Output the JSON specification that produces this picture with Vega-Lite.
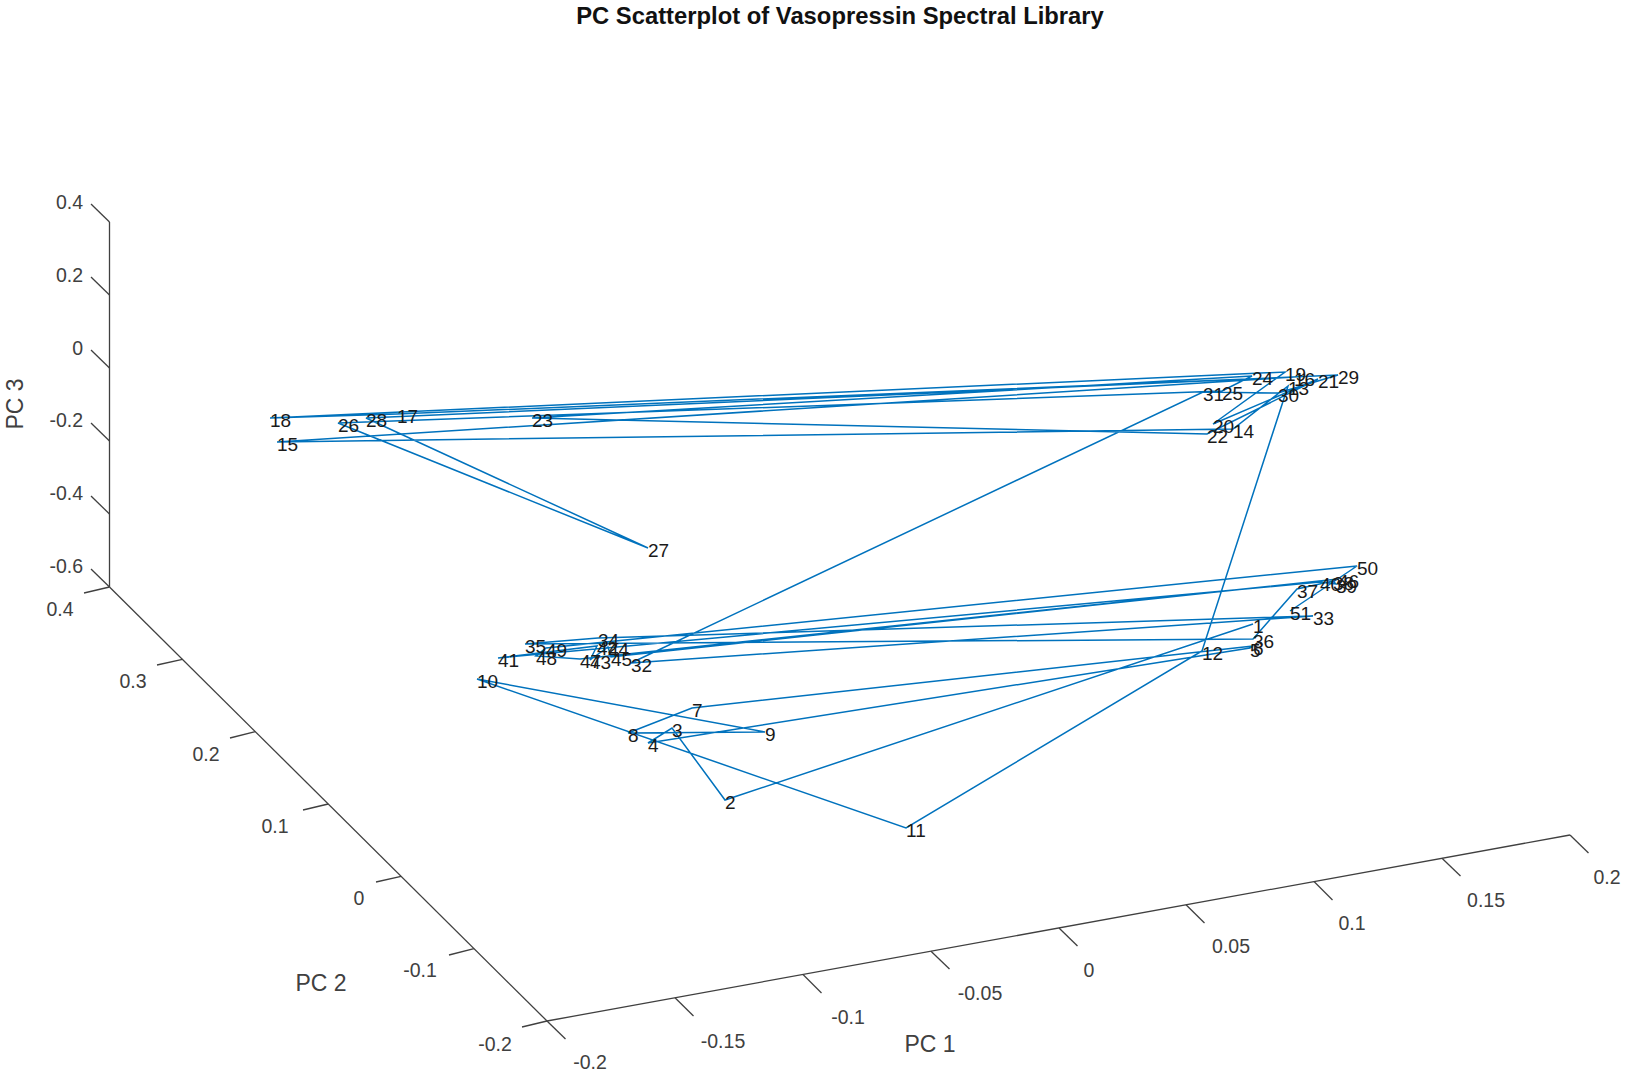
{"$schema":"https://vega.github.io/schema/vega-lite/v6.json","width":1630,"height":1076,"padding":0,"autosize":{"type":"fit","contains":"padding"},"background":"white","config":{"view":{"stroke":null},"text":{"font":"Liberation Sans"}},
"datasets":{
"pts":[{"n":1,"px":1253,"py":624},{"n":2,"px":725,"py":800},{"n":3,"px":672,"py":728},{"n":4,"px":648,"py":743},{"n":5,"px":1250,"py":648},{"n":6,"px":1253,"py":646},{"n":7,"px":692,"py":708},{"n":8,"px":628,"py":733},{"n":9,"px":765,"py":732},{"n":10,"px":477,"py":679},{"n":11,"px":906,"py":828},{"n":12,"px":1202,"py":651},{"n":13,"px":1288,"py":386},{"n":14,"px":1233,"py":429},{"n":15,"px":277,"py":442},{"n":16,"px":1294,"py":377},{"n":17,"px":397,"py":414},{"n":18,"px":270,"py":418},{"n":19,"px":1285,"py":372},{"n":20,"px":1213,"py":424},{"n":21,"px":1318,"py":379},{"n":22,"px":1207,"py":434},{"n":23,"px":532,"py":418},{"n":24,"px":1252,"py":376},{"n":25,"px":1222,"py":391},{"n":26,"px":338,"py":423},{"n":27,"px":648,"py":548},{"n":28,"px":366,"py":418},{"n":29,"px":1338,"py":375},{"n":30,"px":1278,"py":393},{"n":31,"px":1203,"py":392},{"n":32,"px":631,"py":663},{"n":33,"px":1313,"py":616},{"n":34,"px":598,"py":638},{"n":35,"px":525,"py":644},{"n":36,"px":1253,"py":639},{"n":37,"px":1297,"py":589},{"n":38,"px":1333,"py":581},{"n":39,"px":1336,"py":584},{"n":40,"px":1320,"py":582},{"n":41,"px":498,"py":658},{"n":42,"px":597,"py":646},{"n":43,"px":590,"py":660},{"n":44,"px":608,"py":647},{"n":45,"px":611,"py":657},{"n":46,"px":1338,"py":579},{"n":47,"px":580,"py":659},{"n":48,"px":536,"py":656},{"n":49,"px":546,"py":648},{"n":50,"px":1357,"py":566},{"n":51,"px":1290,"py":611}],
"axes":[{"axis":"PC 3","px":109.5,"py":222,"px2":109.5,"py2":587},{"axis":"PC 2","px":109.5,"py":587,"px2":547,"py2":1021},{"axis":"PC 1","px":547,"py":1021,"px2":1570,"py2":835},
{"axis":"z0.4","px":109.5,"py":222,"px2":91,"py2":204},{"axis":"z0.2","px":109.5,"py":295,"px2":91,"py2":277},{"axis":"z0","px":109.5,"py":368,"px2":91,"py2":350},{"axis":"z-0.2","px":109.5,"py":441,"px2":91,"py2":423},{"axis":"z-0.4","px":109.5,"py":514,"px2":91,"py2":496},{"axis":"z-0.6","px":109.5,"py":587,"px2":91,"py2":569},
{"axis":"y0.4","px":109.5,"py":587,"px2":84,"py2":593},{"axis":"y0.3","px":182.4,"py":659.3,"px2":157,"py2":665},{"axis":"y0.2","px":255.3,"py":731.7,"px2":230,"py2":738},{"axis":"y0.1","px":328.2,"py":804,"px2":303,"py2":810},{"axis":"y0","px":401.1,"py":876.3,"px2":376,"py2":882},{"axis":"y-0.1","px":474,"py":948.7,"px2":449,"py2":955},{"axis":"y-0.2","px":547,"py":1021,"px2":522,"py2":1027},
{"axis":"x-0.2","px":547,"py":1021,"px2":565.5,"py2":1039},{"axis":"x-0.15","px":675,"py":997.8,"px2":693.5,"py2":1016},{"axis":"x-0.1","px":803,"py":974.5,"px2":821.5,"py2":993},{"axis":"x-0.05","px":931,"py":951.3,"px2":949.5,"py2":969},{"axis":"x0","px":1059,"py":928,"px2":1077.5,"py2":946},{"axis":"x0.05","px":1186,"py":904.8,"px2":1204.5,"py2":923},{"axis":"x0.1","px":1314,"py":881.5,"px2":1332.5,"py2":900},{"axis":"x0.15","px":1442,"py":858.3,"px2":1460.5,"py2":876},{"axis":"x0.2","px":1570,"py":835,"px2":1588.5,"py2":853}],
"ticks":[{"t":"-0.2","px":590,"py":1063},{"t":"-0.15","px":723,"py":1042},{"t":"-0.1","px":848,"py":1018},{"t":"-0.05","px":980,"py":994},{"t":"0","px":1089,"py":971},{"t":"0.05","px":1231,"py":947},{"t":"0.1","px":1352,"py":924},{"t":"0.15","px":1486,"py":901},{"t":"0.2","px":1607,"py":878},
{"t":"0.4","px":60,"py":610},{"t":"0.3","px":133,"py":682},{"t":"0.2","px":206,"py":755},{"t":"0.1","px":275,"py":827},{"t":"0","px":359,"py":899},{"t":"-0.1","px":420,"py":971},{"t":"-0.2","px":495,"py":1045}],
"zticks":[{"t":"0.4","px":83,"py":203},{"t":"0.2","px":83,"py":276},{"t":"0","px":83,"py":349},{"t":"-0.2","px":83,"py":421},{"t":"-0.4","px":83,"py":494},{"t":"-0.6","px":83,"py":567}],
"titles":[{"t":"PC 1","px":930,"py":1045},{"t":"PC 2","px":321,"py":984}],
"ztitle":[{"t":"PC 3","px":16,"py":404}],
"main":[{"t":"PC Scatterplot of Vasopressin Spectral Library","px":840,"py":17}]
},
"encoding":{"x":{"field":"px","type":"quantitative","scale":{"domain":[0,1630],"nice":false,"zero":false},"axis":null},"y":{"field":"py","type":"quantitative","scale":{"domain":[1076,0],"nice":false,"zero":false},"axis":null}},
"layer":[
{"data":{"name":"axes"},"mark":{"type":"rule","color":"#404040","strokeWidth":1.3},"encoding":{"x2":{"field":"px2"},"y2":{"field":"py2"}}},
{"data":{"name":"pts"},"mark":{"type":"line","color":"#0072BD","strokeWidth":1.5,"interpolate":"linear"},"encoding":{"order":{"field":"n","type":"quantitative"}}},
{"data":{"name":"pts"},"mark":{"type":"text","align":"left","baseline":"middle","dx":0,"dy":3,"fontSize":19,"color":"#1a1a1a"},"encoding":{"text":{"field":"n","type":"nominal"}}},
{"data":{"name":"ticks"},"mark":{"type":"text","align":"center","baseline":"middle","fontSize":19.5,"color":"#404040"},"encoding":{"text":{"field":"t","type":"nominal"}}},
{"data":{"name":"zticks"},"mark":{"type":"text","align":"right","baseline":"middle","fontSize":19.5,"color":"#404040"},"encoding":{"text":{"field":"t","type":"nominal"}}},
{"data":{"name":"titles"},"mark":{"type":"text","align":"center","baseline":"middle","fontSize":23,"color":"#404040"},"encoding":{"text":{"field":"t","type":"nominal"}}},
{"data":{"name":"ztitle"},"mark":{"type":"text","align":"center","baseline":"middle","fontSize":23,"angle":270,"color":"#404040"},"encoding":{"text":{"field":"t","type":"nominal"}}},
{"data":{"name":"main"},"mark":{"type":"text","align":"center","baseline":"middle","fontSize":23.8,"fontWeight":"bold","color":"#111111"},"encoding":{"text":{"field":"t","type":"nominal"}}}
]}
